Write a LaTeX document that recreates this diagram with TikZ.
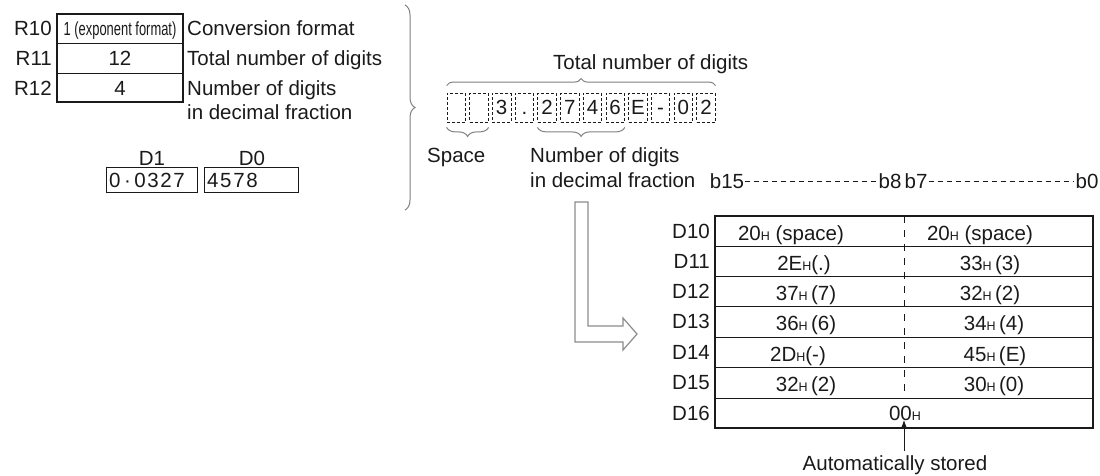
\documentclass[tikz,border=0pt]{standalone}
\usepackage{fontspec}
\setmainfont{Liberation Sans}
\newfontfamily\spacedfont[LetterSpace=8]{Liberation Sans}
\usetikzlibrary{decorations.pathreplacing,arrows.meta}
\definecolor{txt}{HTML}{1A1A1A}
\definecolor{bracegray}{HTML}{808080}
\definecolor{arrowgray}{HTML}{8C8C8C}
\newcommand{\subH}{{\fontsize{12.5}{14}\selectfont H}}
\begin{document}
\begin{tikzpicture}[x=1pt,y=-1pt,
  every node/.style={inner sep=0pt, text=txt, font=\fontsize{20.5}{24}\selectfont, text height=14.7pt, text depth=0pt},
  lbl/.style={anchor=west},
  rlbl/.style={anchor=east},
  dbox/.style={draw=txt, dash pattern=on 3pt off 2pt, line width=0.8pt, minimum width=18.5pt, minimum height=29pt},
  gbrace/.style={draw=bracegray, line width=1pt, decorate},
  frame/.style={draw=txt, line width=1.8pt},
  rowline/.style={draw=txt, line width=0.9pt},
  hdash/.style={draw=txt, line width=0.8pt, dash pattern=on 5pt off 4pt},
  vdash/.style={draw=txt, line width=0.8pt, dash pattern=on 7pt off 7pt},
]
\useasboundingbox (0,0) rectangle (1100,475);

% ---------- registers R10-R12 ----------
\draw[frame] (57,14) rectangle (183,102);
\draw[rowline] (57,43) -- (183,43) (57,73) -- (183,73);
\node[rlbl] (r10) at (52,28) {R10};
\node[rlbl] (r11) at (52,58) {R11};
\node[rlbl] (r12) at (52,88) {R12};
\node (v10) at (120,28) {\fontsize{19}{22}\selectfont\scalebox{0.68}[1]{1 (exponent format)}};
\node (v11) at (120,58) {12};
\node (v12) at (120,88) {4};
\node[lbl] (c10) at (187,28) {Conversion format};
\node[lbl] (c11) at (187,58) {Total number of digits};
\node[lbl] (c12) at (187,88) {Number of digits};
\node[lbl] (c12b) at (187,112) {in decimal fraction};

% ---------- D1 / D0 ----------
\node (d1) at (152,158) {D1};
\node (d0) at (252,158) {D0};
\draw[rowline] (106,167) rectangle (197,192);
\draw[rowline] (204,167) rectangle (298,192);
\node[lbl] (d1v) at (109,180) {\spacedfont 0\,·\,0327};
\node[lbl] (d0v) at (207,180) {\spacedfont 4578};

% ---------- big brace ----------
\draw[gbrace, decoration={brace, amplitude=10pt}] (405,5) -- (405,210);

% ---------- character boxes ----------
\foreach \i/\c in {0/{},1/{},2/3,3/.,4/2,5/7,6/4,7/6,8/E,9/-,10/0,11/2}
  \node[dbox] (bx\i) at ({456.25+22.7*\i},107.5) {\c};

\node[lbl] (tot) at (553,62) {Total number of digits};
\path (bx0.north west) ++(0,-7) coordinate (tl);
\path (bx11.north east) ++(0,-7) coordinate (tr);
\draw[gbrace, decoration={brace, amplitude=7pt}] (tl) -- (tr);
\draw[gbrace, decoration={brace, amplitude=9pt}] ([yshift=-5pt]bx1.south east) -- ([yshift=-5pt]bx0.south west);
\draw[gbrace, decoration={brace, amplitude=9pt}] ([yshift=-5pt]bx7.south east) -- ([yshift=-5pt]bx4.south west);
\node[lbl] (spc) at (427,155) {Space};
\node[lbl] (nd1) at (530,155) {Number of digits};
\node[lbl] (nd2) at (530,180) {in decimal fraction};

% ---------- hollow L arrow ----------
\draw[draw=arrowgray, line width=1.2pt, line join=miter]
  (575,202) -- (588,202) -- (588,326) -- (623,326) -- (623,318) -- (637,334)
  -- (623,350) -- (623,342) -- (575,342) -- cycle;

% ---------- result table ----------
\node (b15) at (727,181) {b15};
\node (b8) at (890,181) {b8};
\node (b7) at (916,181) {b7};
\node (b0) at (1087,181) {b0};
\draw[hdash] ([xshift=1pt]b15.east) -- ([xshift=-1pt]b8.west);
\draw[hdash] ([xshift=1pt]b7.east) -- ([xshift=-1pt]b0.west);

\draw[frame] (715,216) rectangle (1093,428);
\foreach \y in {246,276,306,337,367,398}
  \draw[rowline] (715,\y) -- (1093,\y);
\draw[vdash] (904,216) -- (904,398);

\foreach \n/\y in {10/231,11/261,12/291,13/321.5,14/352,15/382.5,16/413}
  \node[rlbl] (dl\n) at (710,\y) {D\n};

\node (l10) at (791,233) {20\subH{} (space)};
\node (r10c) at (980,233) {20\subH{} (space)};
\node (l11) at (804,263) {2E\subH(.)};
\node (r11c) at (990,263) {33\subH{}\,(3)};
\node (l12) at (806,293) {37\subH{}\,(7)};
\node (r12c) at (990,293) {32\subH{}\,(2)};
\node (l13) at (806,323.5) {36\subH{}\,(6)};
\node (r13c) at (994,323.5) {34\subH{}\,(4)};
\node (l14) at (798,354) {2D\subH(-)};
\node (r14c) at (995,354) {45\subH{}\,(E)};
\node (l15) at (806,384.5) {32\subH{}\,(2)};
\node (r15c) at (994,384.5) {30\subH{}\,(0)};
\node (l16) at (905,413) {00\subH};

\node (auto) at (895,463) {Automatically stored};
\coordinate (atip) at (904,420);
\draw[draw=txt, line width=0.8pt, -{Latex[length=8pt,width=6pt]}] ([yshift=4pt]auto.north -| atip) -- (atip);
\end{tikzpicture}
\end{document}
